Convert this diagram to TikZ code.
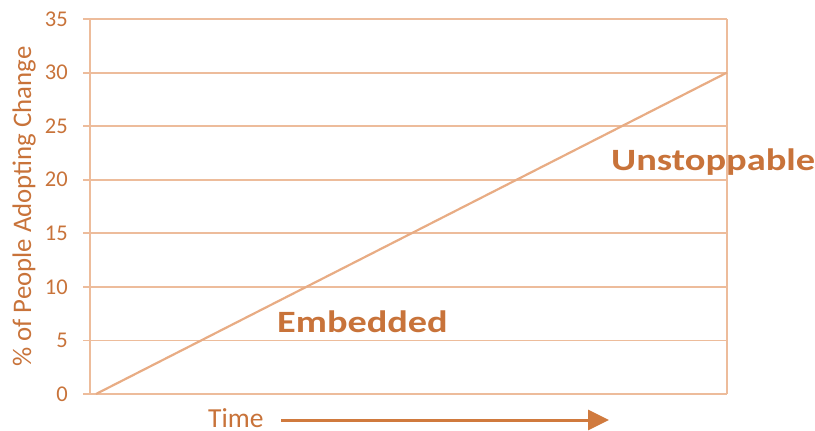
\documentclass[tikz,border=0pt]{standalone}
\usepackage{fontspec}
\setmainfont{Carlito}
\usetikzlibrary{arrows.meta}
\definecolor{txtor}{HTML}{C8733A}
\definecolor{gridor}{HTML}{EDBC9B}
\definecolor{lineor}{HTML}{E8AC84}
\definecolor{arrowor}{HTML}{D07A3E}
\begin{document}
\begin{tikzpicture}[x=1pt,y=-1pt,
  gridline/.style={draw=gridor,line width=1.8pt},
  ticklbl/.style={anchor=east,inner sep=0pt,text=txtor,font=\fontsize{22.5}{22.5}\selectfont},
  biglbl/.style={anchor=base west,inner sep=0pt,text=txtor,font=\fontsize{31}{31}\selectfont\bfseries}]
\useasboundingbox (0,0) rectangle (815,431);
% horizontal grid lines and tick labels
\foreach \v/\yy in {0/394,5/340.4,10/286.9,15/233.3,20/179.7,25/126.1,30/72.6,35/19}{
  \coordinate (gl\v) at (83,\yy);
  \coordinate (gr\v) at (727,\yy);
  \draw[gridline] (gl\v) -- (gr\v);
  \node[ticklbl] (t\v) at (68,\yy) {\v};
}
% vertical axis and right border
\draw[gridline] (90,19) -- (90,394);
\draw[gridline] (gr35) -- (gr0);
% diagonal
\coordinate (start) at (96,394);
\draw[draw=lineor,line width=2.2pt] (start) -- (gr30);
% axis title
\node[rotate=90,inner sep=0pt,text=txtor,font=\fontsize{26.8}{26.8}\selectfont] (ylab) at (24,206.5) {\% of People Adopting Change};
% labels
\node[biglbl] (emb) at (277,332) {\scalebox{1.235}[1]{Embedded}};
\node[biglbl] (uns) at (611,170) {\scalebox{1.24}[1]{Unstoppable}};
% time arrow
\node[anchor=base west,inner sep=0pt,text=txtor,font=\fontsize{27.5}{27.5}\selectfont] (time) at (208,427) {Time};
\coordinate (tstart) at (281,420);
\coordinate (aend) at (609,420);
\draw[draw=arrowor,line width=3pt,-{Triangle[length=21pt,width=20pt]}] (tstart) -- (aend);
\end{tikzpicture}
\end{document}
